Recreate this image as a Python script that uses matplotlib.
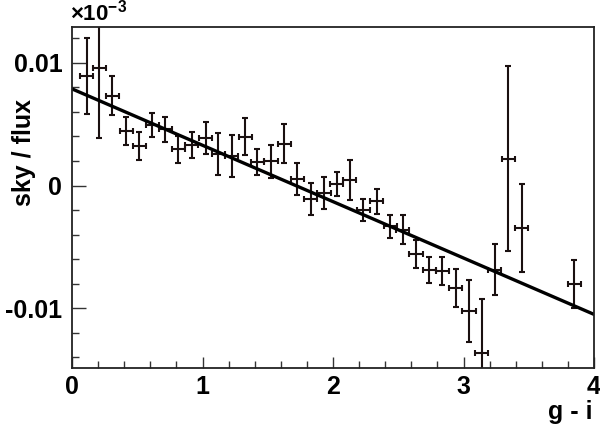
import matplotlib
matplotlib.use("Agg")
import matplotlib.pyplot as plt
from matplotlib.ticker import MultipleLocator, FixedLocator

plt.rcParams['font.family'] = ['Liberation Sans', 'DejaVu Sans']
plt.rcParams['mathtext.fontset'] = 'custom'
plt.rcParams['mathtext.rm'] = 'Liberation Sans:bold'
plt.rcParams['mathtext.bf'] = 'Liberation Sans:bold'

# data (g - i, sky/flux, symmetric y error)
gi = [0.112, 0.21, 0.309, 0.414, 0.516, 0.615, 0.715, 0.815, 0.917, 1.024,
      1.12, 1.224, 1.326, 1.42, 1.525, 1.625, 1.727, 1.829, 1.931, 2.028,
      2.13, 2.232, 2.335, 2.437, 2.534, 2.636, 2.738, 2.838, 2.94, 3.042,
      3.139, 3.241, 3.343, 3.446, 3.847]
ratio = [0.0089, 0.00957, 0.00733, 0.00444, 0.00322, 0.00492, 0.00457, 0.00296, 0.0033, 0.0039,
         0.00255, 0.00241, 0.00398, 0.00188, 0.00196, 0.00342, 0.00053, -0.00109, -0.00063, 0.00012,
         0.00047, -0.00198, -0.00128, -0.00333, -0.00358, -0.00555, -0.00686, -0.00695, -0.00832, -0.01022,
         -0.01367, -0.00684, 0.0022, -0.00344, -0.00803]
yerr = [0.0031, 0.0057, 0.00158, 0.00112, 0.0011, 0.00096, 0.001, 0.0011, 0.00107, 0.0013,
        0.00169, 0.0017, 0.00152, 0.00106, 0.00135, 0.00158, 0.00128, 0.0013, 0.00132, 0.001,
        0.00163, 0.0009, 0.001, 0.00095, 0.00115, 0.00114, 0.00108, 0.00115, 0.00155, 0.0025,
        0.0044, 0.0021, 0.0075, 0.00357, 0.00193]
xerr = 0.05

x_ticks = [0, 1, 2, 3, 4]
x_ticklabels = ['0', '1', '2', '3', '4']
y_ticks = [-0.01, 0, 0.01]
y_ticklabels = ['-0.01', '0', '0.01']

fit_x = [0.0, 4.0]
fit_intercept = 0.00787
fit_slope = -0.00459

fig = plt.figure(figsize=(6.0, 4.25), dpi=100)
ax = fig.add_axes([0.12, 0.134, 0.87, 0.8025])

ax.errorbar(gi, ratio, yerr=yerr, xerr=xerr, fmt='none', ecolor='#1a1010',
            elinewidth=1.5, capsize=2.2, capthick=1.5)
ax.plot(fit_x, [fit_intercept + fit_slope * v for v in fit_x], color='black', lw=2.4)

ax.set_xlim(0, 4)
ax.set_ylim(-0.01486, 0.01291)

ax.xaxis.set_major_locator(FixedLocator(x_ticks))
ax.xaxis.set_minor_locator(MultipleLocator(0.2))
ax.yaxis.set_major_locator(FixedLocator(y_ticks))
ax.yaxis.set_minor_locator(MultipleLocator(0.002))
ax.set_xticklabels(x_ticklabels)
ax.set_yticklabels(y_ticklabels)

ax.tick_params(which='both', direction='in', top=False, right=False, width=1.0, color='#333333')
ax.tick_params(which='major', length=10)
ax.tick_params(which='minor', length=5)
ax.tick_params(axis='x', which='major', length=8, pad=5)
ax.tick_params(axis='y', pad=7)
for lbl in ax.get_xticklabels() + ax.get_yticklabels():
    lbl.set_fontsize(18)
    lbl.set_fontweight('bold')

for s in ax.spines.values():
    s.set_linewidth(1.3)
    s.set_color('#222222')

fig.text(592/600, 1 - 412/425, 'g - i', ha='right', va='center', fontsize=18, fontweight='bold')
fig.text(24/600, 1 - 152/425, 'sky / flux', ha='center', va='center', rotation=90,
         fontsize=18, fontweight='bold')
fig.text(70/600, 1 - 21/425, r'$\times$10$^{\mathbf{-3}}$', ha='left', va='baseline', fontsize=16,
         fontweight='bold')

fig.savefig('out.png', dpi=100)
